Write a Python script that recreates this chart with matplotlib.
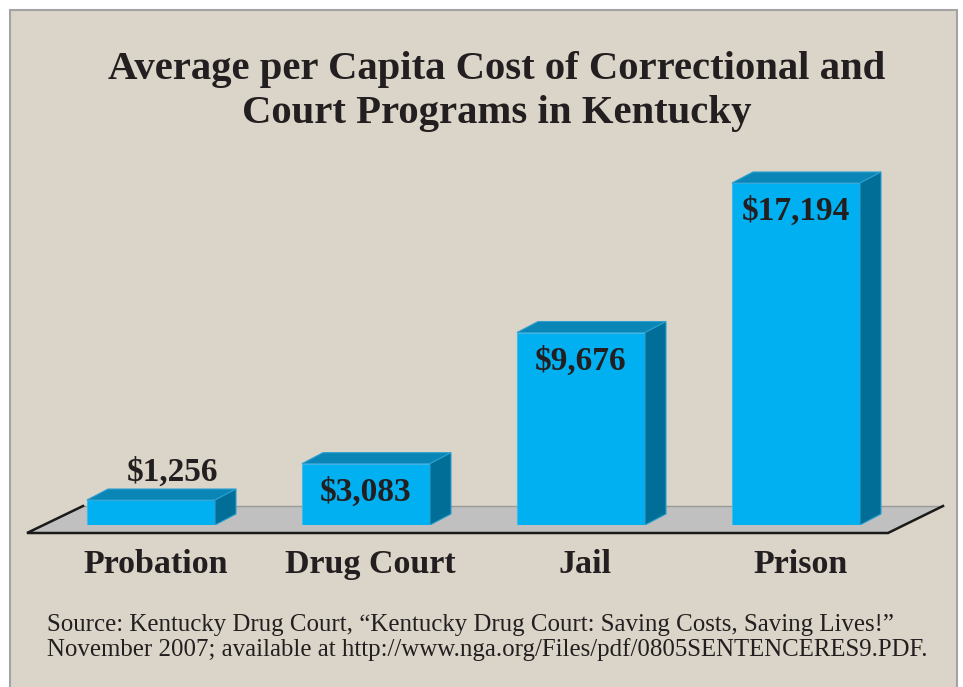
import matplotlib.pyplot as plt
from matplotlib.patches import Rectangle, Polygon
import numpy as np

categories = ["Probation", "Drug Court", "Jail", "Prison"]
costs = [1256, 3083, 9676, 17194]
cost_labels = ["$1,256", "$3,083", "$9,676", "$17,194"]
title_lines = ["Average per Capita Cost of Correctional and",
               "Court Programs in Kentucky"]
source_lines = ["Source: Kentucky Drug Court, \u201cKentucky Drug Court: Saving Costs, Saving Lives!\u201d",
                "November 2007; available at http://www.nga.org/Files/pdf/0805SENTENCERES9.PDF."]

plt.rcParams['font.family'] = ['Liberation Serif', 'DejaVu Serif']
ink = "#231f20"
front_c = "#00b0f0"
top_c = "#0986b6"
side_c = "#006e97"

W, H = 963, 687
fig = plt.figure(figsize=(W / 100, H / 100), dpi=100)
fig.patch.set_facecolor("white")

# background layer in pixel coords
bg = fig.add_axes([0, 0, 1, 1])
bg.set_xlim(0, W)
bg.set_ylim(H, 0)
bg.axis("off")
bg.add_patch(Rectangle((10, 10), 947, 700, facecolor="#dbd4c8",
                       edgecolor="#a3a3a3", lw=1.5, clip_on=False))
# floor
bg.add_patch(Polygon([(27, 533), (83, 506), (943, 506), (888, 533)],
                     closed=True, facecolor="#c0c0c0", edgecolor="none"))
bg.plot([83, 943], [506, 506], color="#9a9a9a", lw=1)
bg.plot([83, 27, 888, 943], [506, 533, 533, 506], color="#1a1a1a", lw=1.8,
        solid_joinstyle="miter")

for yb, line in zip([79, 123], title_lines):
    bg.text(497, yb, line, ha="center", va="baseline", fontsize=29.3,
            fontweight="bold", color=ink)
for yb, line in zip([631, 656], source_lines):
    bg.text(47, yb, line, ha="left", va="baseline", fontsize=17.9, color=ink)

# bars
px_per_dollar = 342 / 17194
ymax = 19000
ax = fig.add_axes([43.5 / W, 162 / H, 860 / W, ymax * px_per_dollar / H])
ax.set_xlim(-0.5, 3.5)
ax.set_ylim(0, ymax)
ax.patch.set_alpha(0)
for s in ax.spines.values():
    s.set_visible(False)
ax.set_yticks([])

x = np.arange(len(categories))
bw = 128 / 215
bars = ax.bar(x, costs, width=bw, color=front_c, edgecolor="#45b9e6",
              lw=0.8, zorder=3)

dx = 21 / 215
dy = 11 / px_per_dollar
for b, lab in zip(bars, cost_labels):
    x0 = b.get_x()
    x1 = x0 + b.get_width()
    h = b.get_height()
    ax.add_patch(Polygon([(x0, h), (x0 + dx, h + dy), (x1 + dx, h + dy), (x1, h)],
                         facecolor=top_c, edgecolor="#2a9fd0", lw=0.8, zorder=3))
    ax.add_patch(Polygon([(x1, 0), (x1, h), (x1 + dx, h + dy), (x1 + dx, dy)],
                         facecolor=side_c, edgecolor="#2a9fd0", lw=0.8, zorder=3))
    cx = x0 + b.get_width() / 2
    if h * px_per_dollar > 45:
        ax.annotate(lab, (cx, h), xytext=(0, -26.5), textcoords="offset points",
                    ha="center", va="baseline", fontsize=24, fontweight="bold",
                    color=ink, zorder=4)
    else:
        ax.annotate(lab, (cx + dx, h + dy), xytext=(0, 6), textcoords="offset points",
                    ha="center", va="baseline", fontsize=24, fontweight="bold",
                    color=ink, zorder=4)

ax.set_xticks(x + 0.02, categories)
ax.tick_params(axis="x", length=0, pad=17, labelsize=24.5, colors=ink)
for t in ax.get_xticklabels():
    t.set_fontweight("bold")

fig.savefig("out.png", dpi=100)
